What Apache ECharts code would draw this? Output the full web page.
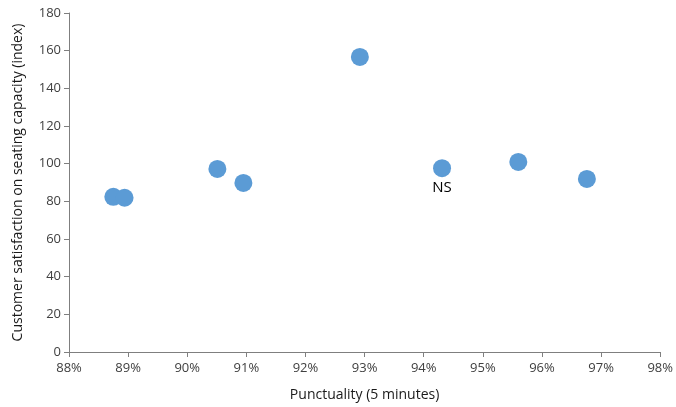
<!DOCTYPE html>
<html><head><meta charset="utf-8">
<script src="https://cdn.jsdelivr.net/npm/echarts@6/dist/echarts.min.js"></script>
<style>html,body{margin:0;padding:0;background:#fff}#c{width:676px;height:407px}</style>
</head><body><div id="c"></div>
<script>
const punctuality = [88.75, 88.94, 90.51, 90.95, 92.92, 94.31, 95.60, 96.76];
const satisfaction = [82.4, 81.9, 97.2, 89.8, 156.7, 97.6, 100.9, 91.9];
const pointLabels = ['', '', '', '', '', 'NS', '', ''];
const xTitle = 'Punctuality (5 minutes)';
const yTitle = 'Customer satisfaction on seating capacity (index)';

const font = '"Open Sans", "Noto Sans", sans-serif';
const data = punctuality.map((x, i) => ({
  value: [x, satisfaction[i]],
  label: pointLabels[i] ? {show: true, formatter: pointLabels[i], position: 'bottom', distance: 3,
    color: '#000', fontSize: 15, fontFamily: font} : {show: false}
}));
const chart = echarts.init(document.getElementById('c'), null, {renderer: 'canvas'});
const axisCommon = {
  axisLine: {show: true, lineStyle: {color: '#7f7f7f', width: 1}},
  axisTick: {show: true, inside: false, length: 5, lineStyle: {color: '#7f7f7f'}},
  splitLine: {show: false},
  nameTextStyle: {color: '#1a1a1a', fontSize: 14, fontFamily: font}
};
chart.setOption({
  animation: false,
  grid: {left: 69, right: 13, top: 13, bottom: 52},
  xAxis: Object.assign({}, axisCommon, {
    type: 'value', min: 88, max: 98, interval: 1,
    name: xTitle, nameLocation: 'middle', nameGap: 36,
    axisLabel: {formatter: '{value}%', color: '#404040', fontSize: 13, fontFamily: font, margin: 10}
  }),
  yAxis: Object.assign({}, axisCommon, {
    type: 'value', min: 0, max: 180, interval: 20,
    name: yTitle, nameLocation: 'middle', nameGap: 44, nameRotate: 90,
    axisLabel: {color: '#404040', fontSize: 13, fontFamily: font, margin: 8}
  }),
  series: [{
    type: 'scatter', symbol: 'circle', symbolSize: 18,
    itemStyle: {color: '#5B9BD5', opacity: 1},
    data: data
  }]
});
</script></body></html>
